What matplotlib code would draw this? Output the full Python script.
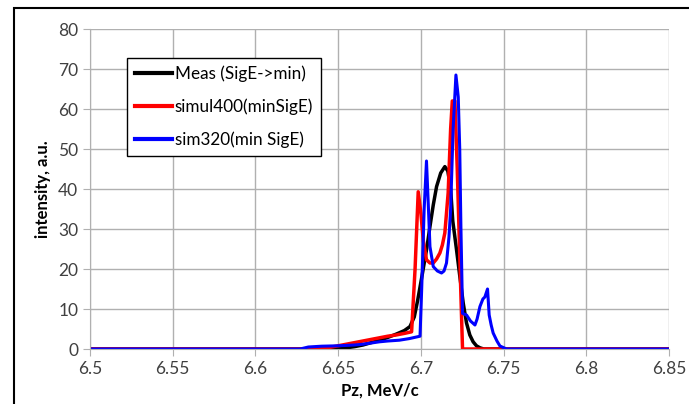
import matplotlib
matplotlib.use("Agg")
import matplotlib.pyplot as plt
from matplotlib.patches import Rectangle

plt.rcParams["font.family"] = ["Lato", "DejaVu Sans"]

# measured spectrum
meas_x = [6.50, 6.645, 6.650, 6.655, 6.660, 6.665, 6.670, 6.675, 6.680, 6.685, 6.690,
          6.6934, 6.696, 6.698, 6.701, 6.7035, 6.7055, 6.7075, 6.7095, 6.712,
          6.7145, 6.7163, 6.718, 6.7193, 6.7215, 6.7236, 6.7256, 6.7276, 6.7296,
          6.7316, 6.7336, 6.7357, 6.738, 6.85]
meas_y = [0, 0, 0.1, 0.3, 0.6, 1.0, 1.6, 2.2, 2.9, 3.7, 4.6,
          5.6, 8.0, 12.0, 19.0, 25.0, 30.6, 36.0, 40.6, 44.0,
          45.6, 44.5, 40.0, 32.0, 25.0, 18.0, 11.5, 6.5, 3.5,
          1.8, 0.8, 0.3, 0, 0]

# simulation 400
sim400_x = [6.50, 6.638, 6.645, 6.650, 6.655, 6.660, 6.665, 6.670, 6.675, 6.680, 6.685,
            6.690, 6.6944, 6.6965, 6.6984, 6.700, 6.7015, 6.7034, 6.7055, 6.7075,
            6.7095, 6.7115, 6.713, 6.7145, 6.7165, 6.718, 6.719, 6.7206, 6.722,
            6.7236, 6.7246, 6.7252, 6.85]
sim400_y = [0, 0, 0.4, 0.8, 1.2, 1.6, 2.0, 2.4, 2.8, 3.2, 3.5,
            3.9, 4.3, 20.0, 39.3, 34.0, 27.0, 22.3, 21.5, 21.5,
            22.5, 24.0, 26.0, 29.0, 39.0, 55.0, 62.0, 62.0, 45.0,
            22.0, 8.0, 0, 0]

# simulation 320
sim320_x = [6.50, 6.627, 6.632, 6.640, 6.650, 6.660, 6.665, 6.670, 6.675, 6.680, 6.687,
            6.693, 6.6995, 6.7005, 6.702, 6.7034, 6.7045, 6.7055, 6.7075, 6.710,
            6.7125, 6.714, 6.7155, 6.717, 6.718, 6.7195, 6.7212, 6.7226, 6.7235,
            6.7242, 6.7252, 6.7276, 6.730, 6.7327, 6.734, 6.7357, 6.7375, 6.7387,
            6.7403, 6.7413, 6.7425, 6.7437, 6.746, 6.7478, 6.7518, 6.85]
sim320_y = [0, 0, 0.5, 0.7, 0.8, 1.0, 1.2, 1.5, 1.8, 2.0, 2.2,
            2.6, 3.2, 15.0, 35.0, 47.0, 36.0, 25.6, 20.6, 19.5,
            19.0, 19.5, 21.5, 28.0, 35.0, 55.0, 68.5, 63.0, 50.0,
            30.6, 8.9, 8.5, 7.0, 6.0, 7.5, 10.6, 12.5, 13.0,
            15.0, 8.5, 6.0, 4.0, 2.0, 0.75, 0, 0]

x_ticks = [6.5, 6.55, 6.6, 6.65, 6.7, 6.75, 6.8, 6.85]
y_ticks = [0, 10, 20, 30, 40, 50, 60, 70, 80]

fig = plt.figure(figsize=(6.89, 4.04), dpi=100)
fig.patches.append(Rectangle((14 / 689, -0.1), 1.2, 1 - 8 / 404 + 0.1,
                             transform=fig.transFigure, fill=False,
                             edgecolor="black", linewidth=1.5))
ax = fig.add_axes([90 / 689, 1 - 349 / 404, 579 / 689, 320 / 404])

ax.plot(meas_x, meas_y, color="black", lw=2.5, label="Meas (SigE->min)")
ax.plot(sim400_x, sim400_y, color="#ff0000", lw=2.5, label="simul400(minSigE)")
ax.plot(sim320_x, sim320_y, color="#0000ff", lw=2.2, label="sim320(min SigE)")

ax.set_xlim(6.5, 6.85)
ax.set_ylim(0, 80)
ax.set_xticks(x_ticks)
ax.set_xticklabels([f"{t:g}" for t in x_ticks])
ax.set_yticks(y_ticks)
ax.grid(True, color="#b0b0b0", lw=1)
ax.set_axisbelow(True)
for s in ["top", "right"]:
    ax.spines[s].set_visible(False)
for s in ["left", "bottom"]:
    ax.spines[s].set_color("#b0b0b0")
ax.tick_params(axis="both", colors="#b0b0b0", labelcolor="#404040",
               labelsize=12.5, length=5, direction="out")
ax.set_xlabel("Pz, MeV/c", fontsize=12, fontweight="bold", labelpad=4)
ax.set_ylabel("intensity, a.u.", fontsize=12, fontweight="bold", labelpad=5)

leg = ax.legend(loc="upper left", bbox_to_anchor=(37 / 579, 1 - 29 / 320),
                borderaxespad=0, fontsize=12.3, handlelength=2.2,
                handletextpad=0.15, labelspacing=0.95, fancybox=False,
                framealpha=1, borderpad=0.45, edgecolor="black")
leg.get_frame().set_linewidth(1)
for line in leg.get_lines():
    line.set_linewidth(3)

fig.savefig("out.png", dpi=100)
